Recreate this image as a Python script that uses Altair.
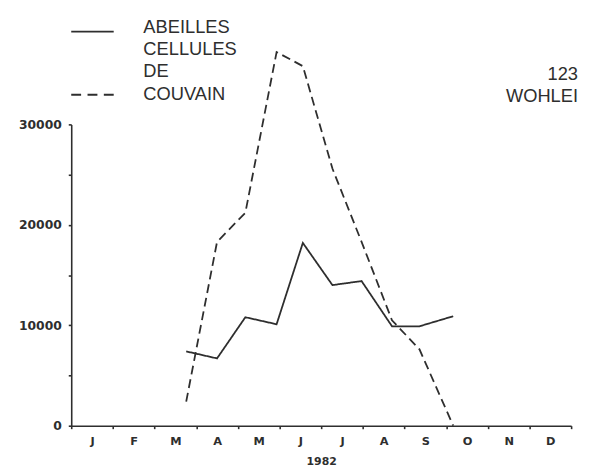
import altair as alt
import pandas as pd

# sampling dates expressed as fractional month position (0 = start of January)
dates = [2.76, 3.50, 4.18, 4.93, 5.56, 6.27, 6.97, 7.70, 8.36, 9.17]
abeilles = [7400, 6700, 10800, 10100, 18200, 14000, 14400, 9900, 9900, 10900]
couvain = [2400, 18300, 21200, 37200, 35800, 25600, 18300, 10500, 7600, 0]
month_letters = ["J", "F", "M", "A", "M", "J", "J", "A", "S", "O", "N", "D"]
series_names = ["ABEILLES", "CELLULES DE COUVAIN"]

rows = []
for d, v in zip(dates, abeilles):
    rows.append({"mois": d, "valeur": v, "serie": series_names[0]})
for d, v in zip(dates, couvain):
    rows.append({"mois": d, "valeur": v, "serie": series_names[1]})
df = pd.DataFrame(rows)

INK = "#2e2e2e"
W, H = 506, 305

month_expr = "[" + ",".join("'%s'" % m for m in month_letters) + "]"

x_axis = alt.Axis(
    values=[i * 0.5 for i in range(25)],
    labelExpr="datum.value % 1 === 0 ? '' : " + month_expr + "[floor(datum.value)]",
    tickOpacity={"condition": {"test": "datum.value % 1 === 0", "value": 1}, "value": 0},
    title="1982",
    titleFont="DejaVu Sans", titleFontWeight="bold", titleFontSize=11, titleColor=INK,
    titlePadding=9,
    labelFont="DejaVu Sans", labelFontWeight="bold", labelFontSize=11.5, labelColor=INK,
    labelPadding=7, tickSize=3, grid=False,
    domainColor=INK, domainWidth=1.6, tickColor=INK, tickWidth=1.6,
)
y_axis = alt.Axis(
    values=[0, 5000, 10000, 15000, 20000, 25000, 30000],
    labelExpr="datum.value % 10000 === 0 ? format(datum.value, 'd') : ''",
    title=None,
    labelFont="DejaVu Sans", labelFontWeight="bold", labelFontSize=12.5, labelColor=INK,
    labelPadding=7, tickSize=3, grid=False,
    domainColor=INK, domainWidth=1.6, tickColor=INK, tickWidth=1.6,
)

lines = alt.Chart(df).mark_line(color=INK, strokeWidth=1.8).encode(
    x=alt.X("mois:Q", scale=alt.Scale(domain=[0, 12], nice=False, zero=False), axis=x_axis),
    y=alt.Y("valeur:Q", scale=alt.Scale(domain=[0, 30000], nice=False), axis=y_axis),
    strokeDash=alt.StrokeDash("serie:N", scale=alt.Scale(domain=series_names, range=[[1, 0], [9, 5]]), legend=None),
    detail="serie:N",
)

one = pd.DataFrame({"k": [0]})
leg_solid = alt.Chart(one).mark_rule(color=INK, strokeWidth=1.8).encode(
    x=alt.value(0), x2=alt.value(43), y=alt.value(-94))
leg_dash = alt.Chart(one).mark_rule(color=INK, strokeWidth=1.8, strokeDash=[10, 6.5]).encode(
    x=alt.value(0), x2=alt.value(43), y=alt.value(-30))
leg_text = alt.Chart(one).mark_text(
    align="left", baseline="alphabetic", font="Liberation Sans", fontSize=18.5,
    color=INK, lineHeight=22.7,
).encode(x=alt.value(73), y=alt.value(-93),
         text=alt.value(["ABEILLES", "CELLULES", "DE", "COUVAIN"]))
site_text = alt.Chart(one).mark_text(
    align="right", baseline="alphabetic", font="Liberation Sans", fontSize=18.5,
    color=INK, lineHeight=22,
).encode(x=alt.value(513), y=alt.value(-45), text=alt.value(["123", "WOHLEI"]))

chart = alt.layer(lines, leg_solid, leg_dash, leg_text, site_text).properties(
    width=W, height=H,
    autosize=alt.AutoSizeParams(type="none"),
    padding={"left": 64, "top": 115, "right": 10, "bottom": 40},
    background="white",
).configure_view(stroke=None)

chart.save("out.html", embed_options={"renderer": "svg", "actions": False})
